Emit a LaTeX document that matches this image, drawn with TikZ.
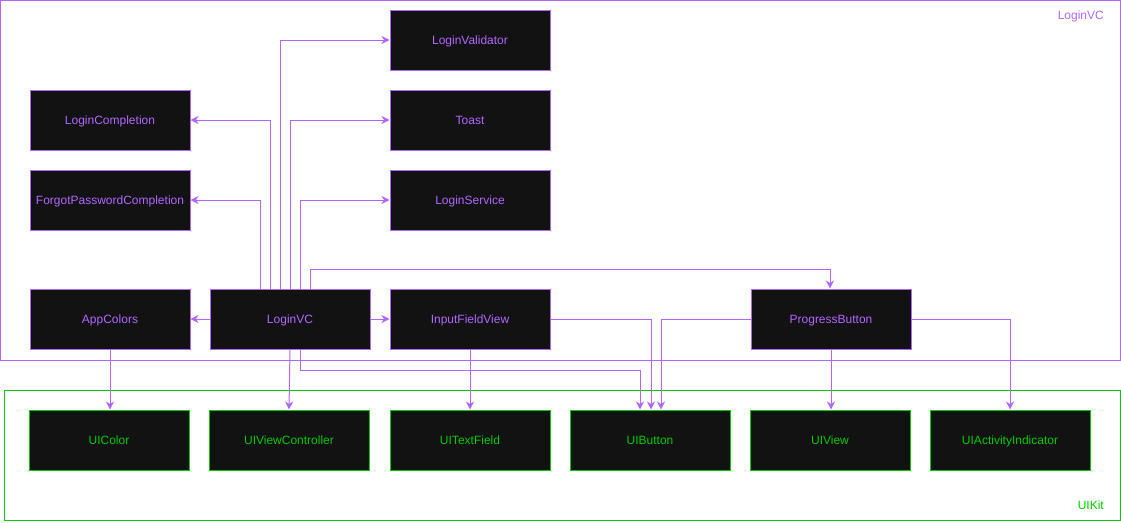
\documentclass[tikz,border=0pt]{standalone}
\usepackage{fontspec}
\setmainfont{Liberation Sans}
\usetikzlibrary{arrows.meta}
\definecolor{pur}{HTML}{B266FF}
\definecolor{grn}{HTML}{00CC00}
\definecolor{fillc}{HTML}{121212}
\begin{document}
\begin{tikzpicture}[x=1pt,y=-1pt,
  box/.style={draw, fill=fillc, minimum width=160pt, minimum height=60pt, inner sep=0pt, text height=8.6pt, text depth=0.6pt, font=\fontsize{12}{14}\selectfont, line width=1pt},
  pbox/.style={box, draw=pur, text=pur},
  gbox/.style={box, draw=grn, text=grn},
  arr/.style={draw=pur, line width=1pt, -{Stealth[length=8pt,width=8pt,inset=2.5pt]}},
  cont/.style={line width=1pt},
  clabel/.style={font=\fontsize{12}{14}\selectfont, anchor=east, inner sep=0pt, text height=8.6pt, text depth=0.6pt}]
\useasboundingbox (0,0) rectangle (1121,522);
% containers
\draw[cont, draw=pur] (0.5,0.5) rectangle (1120.5,360);
\node[clabel, text=pur] (lvclabel) at (1104,15) {LoginVC};
\draw[cont, draw=grn] (4.5,390.5) rectangle (1120,520);
\node[clabel, text=grn] (uikitlabel) at (1104,505) {UIKit};
% nodes
\node[pbox] (val) at (470,40) {LoginValidator};
\node[pbox] (lc) at (110,120) {LoginCompletion};
\node[pbox] (toast) at (470,120) {Toast};
\node[pbox] (fpc) at (110,200) {ForgotPasswordCompletion};
\node[pbox] (ls) at (470,200) {LoginService};
\node[pbox] (ac) at (110,319) {AppColors};
\node[pbox] (lvc) at (290,319) {LoginVC};
\node[pbox] (ifv) at (470,319) {InputFieldView};
\node[pbox] (pb) at (831,319) {ProgressButton};
\node[gbox] (uic) at (109,440) {UIColor};
\node[gbox] (uvc) at (289,440) {UIViewController};
\node[gbox] (utf) at (470,440) {UITextField};
\node[gbox] (btn) at (650,440) {UIButton};
\node[gbox] (uv) at (830,440) {UIView};
\node[gbox] (uai) at (1010,440) {UIActivityIndicator};
% edges
\draw[arr] ([xshift=-10pt]lvc.north) |- (val.west);
\draw[arr] ([xshift=-20pt]lvc.north) |- (lc.east);
\draw[arr] (lvc.north) |- (toast.west);
\draw[arr] ([xshift=-30pt]lvc.north) |- (fpc.east);
\draw[arr] ([xshift=10pt]lvc.north) |- (ls.west);
\draw[arr] ([xshift=20pt]lvc.north) -- ++(0,-19) -| ([xshift=-1pt]pb.north);
\draw[arr] (lvc.west) -- (ac.east);
\draw[arr] (lvc.east) -- (ifv.west);
\draw[arr] (lvc.south) -- (uvc.north);
\draw[arr] ([xshift=10pt]lvc.south) -- ++(0,21) -| ([xshift=-10pt]btn.north);
\draw[arr] (ifv.east) -| ([xshift=1pt]btn.north);
\draw[arr] (ifv.south) -- (utf.north);
\draw[arr] (pb.west) -| ([xshift=11pt]btn.north);
\draw[arr] (pb.south) -- ([xshift=1pt]uv.north);
\draw[arr] (pb.east) -| (uai.north);
\draw[arr] (ac.south) -- ([xshift=1pt]uic.north);
\end{tikzpicture}
\end{document}
